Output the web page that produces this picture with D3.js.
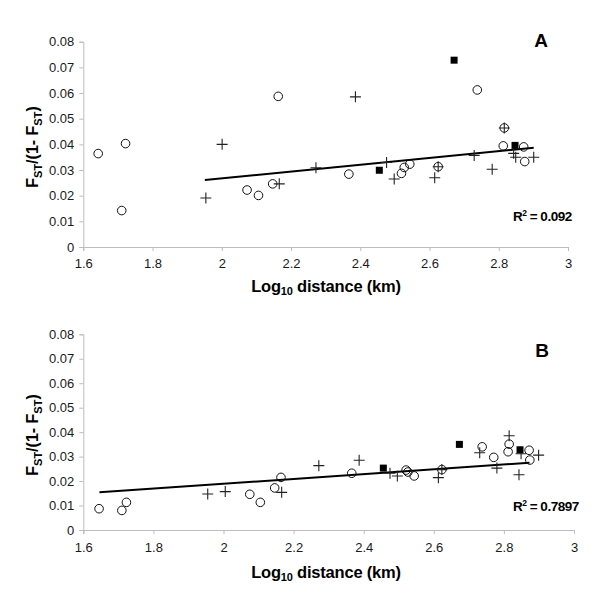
<!DOCTYPE html>
<html><head><meta charset="utf-8">
<script src="https://cdn.jsdelivr.net/npm/d3@7"></script>
<style>body{margin:0;background:#fff}svg{display:block}text{font-family:Arial,"Liberation Sans",sans-serif}</style>
</head><body>
<svg id="c" width="600" height="602"></svg>
<script>
// ---- data ----
const xTicks = [1.6, 1.8, 2, 2.2, 2.4, 2.6, 2.8, 3];
const yTicks = [0, 0.01, 0.02, 0.03, 0.04, 0.05, 0.06, 0.07, 0.08];

// Panel A
const aCircleX = [1.643,1.722,1.711,2.163,2.073,2.106,2.147,2.367,2.519,2.527,2.543,2.625,2.738,2.816,2.813,2.872,2.875];
const aCircleY = [0.0364,0.0403,0.0142,0.0587,0.0222,0.0201,0.0246,0.0284,0.0287,0.0310,0.0323,0.0313,0.0612,0.0464,0.0394,0.0390,0.0333];
const aPlusX = [2.001,1.954,2.166,2.272,2.386,2.476,2.498,2.615,2.625,2.729,2.781,2.816,2.843,2.849,2.901];
const aPlusY = [0.0400,0.0191,0.0246,0.0309,0.0585,0.0329,0.0265,0.0270,0.0313,0.0357,0.0303,0.0464,0.0365,0.0350,0.0350];
const aSquareX = [2.455,2.671,2.847];
const aSquareY = [0.0299,0.0728,0.0396];
const aTrendX = [1.951, 2.901];
const aTrendY = [0.0261, 0.0387];

// Panel B
const bCircleX = [1.645,1.710,1.723,2.075,2.105,2.146,2.164,2.366,2.521,2.526,2.544,2.623,2.738,2.771,2.815,2.812,2.872,2.874];
const bCircleY = [0.0087,0.0080,0.0113,0.0146,0.0113,0.0172,0.0215,0.0232,0.0245,0.0237,0.0221,0.0247,0.0340,0.0297,0.0351,0.0320,0.0326,0.0286];
const bPlusX = [1.955,2.005,2.166,2.272,2.387,2.475,2.496,2.613,2.623,2.731,2.780,2.815,2.849,2.843,2.899];
const bPlusY = [0.0147,0.0157,0.0154,0.0263,0.0285,0.0232,0.0221,0.0214,0.0247,0.0316,0.0253,0.0385,0.0312,0.0226,0.0306];
const bSquareX = [2.456,2.673,2.846];
const bSquareY = [0.0253,0.0350,0.0328];
const bTrendX = [1.646, 2.873];
const bTrendY = [0.0154, 0.0275];

const panels = [
  {label:"A", r2:"0.092", cx:aCircleX, cy:aCircleY, px:aPlusX, py:aPlusY, sx:aSquareX, sy:aSquareY, tx:aTrendX, ty:aTrendY,
   x0:83.3, x1:568, y0:247, y1:41.7, xlabY:292, ylabY:147, labX:541, labY:47, r2X:513, r2Y:221, tickLabDy:24},
  {label:"B", r2:"0.7897", cx:bCircleX, cy:bCircleY, px:bPlusX, py:bPlusY, sx:bSquareX, sy:bSquareY, tx:bTrendX, ty:bTrendY,
   x0:83.3, x1:574, y0:530, y1:334.3, xlabY:578, ylabY:435, labX:542, labY:357, r2X:513, r2Y:511, tickLabDy:25}
];

const svg = d3.select("#c");
const axisCol = "#bdbdbd";

panels.forEach(p => {
  const x = d3.scaleLinear().domain([1.6, 3]).range([p.x0, p.x1]);
  const y = d3.scaleLinear().domain([0, 0.08]).range([p.y0, p.y1]);
  const g = svg.append("g");

  // y axis
  const ya = g.append("g").attr("transform", `translate(${p.x0},0)`)
    .call(d3.axisLeft(y).tickValues(yTicks).tickSize(4).tickPadding(5).tickFormat(d => d === 0 ? "0" : d3.format(".2f")(d)));
  ya.select(".domain").attr("stroke", axisCol);
  ya.selectAll(".tick line").attr("stroke", axisCol);
  ya.selectAll(".tick text").attr("font-size", 13).attr("fill", "#1a1a1a").attr("font-family", "Arial, Liberation Sans, sans-serif");

  // x axis
  const xa = g.append("g").attr("transform", `translate(0,${p.y0})`)
    .call(d3.axisBottom(x).tickValues(xTicks).tickSize(4).tickPadding(p.tickLabDy - 16).tickFormat(d => String(d)));
  xa.select(".domain").attr("stroke", axisCol);
  xa.selectAll(".tick line").attr("stroke", axisCol);
  xa.selectAll(".tick text").attr("font-size", 13).attr("fill", "#1a1a1a").attr("font-family", "Arial, Liberation Sans, sans-serif");

  // trend line
  g.append("line")
    .attr("x1", x(p.tx[0])).attr("y1", y(p.ty[0]))
    .attr("x2", x(p.tx[1])).attr("y2", y(p.ty[1]))
    .attr("stroke", "#000").attr("stroke-width", 2);

  // circles
  g.selectAll(".circ").data(p.cx.map((v, i) => [v, p.cy[i]])).enter().append("circle")
    .attr("cx", d => x(d[0])).attr("cy", d => y(d[1])).attr("r", 4.3)
    .attr("fill", "none").attr("stroke", "#111").attr("stroke-width", 1);

  // plus
  g.selectAll(".plus").data(p.px.map((v, i) => [v, p.py[i]])).enter().append("path")
    .attr("d", d => `M${x(d[0]) - 5.5},${y(d[1])}H${x(d[0]) + 5.5}M${x(d[0])},${y(d[1]) - 5.5}V${y(d[1]) + 5.5}`)
    .attr("stroke", "#222").attr("stroke-width", 1.1).attr("fill", "none");

  // squares
  g.selectAll(".sq").data(p.sx.map((v, i) => [v, p.sy[i]])).enter().append("rect")
    .attr("x", d => x(d[0]) - 3.5).attr("y", d => y(d[1]) - 3.5)
    .attr("width", 7).attr("height", 7).attr("fill", "#000");

  // panel label
  g.append("text").attr("x", p.labX).attr("y", p.labY).attr("text-anchor", "middle")
    .attr("font-size", 19).attr("font-weight", "bold").text(p.label);

  // R2
  const r = g.append("text").attr("x", p.r2X).attr("y", p.r2Y)
    .attr("font-size", 13.5).attr("font-weight", "bold").attr("letter-spacing", -0.5);
  r.append("tspan").text("R");
  r.append("tspan").attr("font-size", 8.5).attr("dy", -5).text("2");
  r.append("tspan").attr("dy", 5).text(" = " + p.r2);

  // x label
  const xl = g.append("text").attr("x", 326).attr("y", p.xlabY).attr("text-anchor", "middle")
    .attr("font-size", 16.5).attr("font-weight", "bold").attr("letter-spacing", -0.2);
  xl.append("tspan").text("Log");
  xl.append("tspan").attr("font-size", 11).attr("dy", 3).text("10");
  xl.append("tspan").attr("dy", -3).text(" distance (km)");

  // y label
  const yl = g.append("text").attr("transform", `translate(38,${p.ylabY}) rotate(-90)`).attr("text-anchor", "middle")
    .attr("font-size", 16).attr("font-weight", "bold");
  yl.append("tspan").text("F");
  yl.append("tspan").attr("font-size", 11).attr("dy", 4).text("ST");
  yl.append("tspan").attr("dy", -4).text("/(1- F");
  yl.append("tspan").attr("font-size", 11).attr("dy", 4).text("ST");
  yl.append("tspan").attr("dy", -4).text(")");
});
</script>
</body></html>
